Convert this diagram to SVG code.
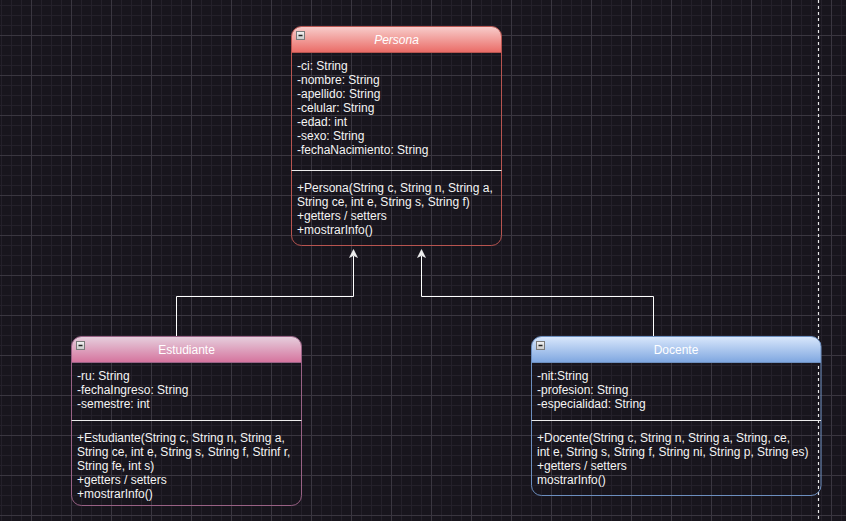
<svg xmlns="http://www.w3.org/2000/svg" width="846" height="521" viewBox="0 0 846 521">
<defs>
<pattern id="grid" x="1" y="5" width="40" height="40" patternUnits="userSpaceOnUse">
<rect width="40" height="40" fill="#18151d"/>
<rect x="0" y="0" width="1" height="40" fill="#24202a"/>
<rect x="10" y="0" width="1" height="40" fill="#24202a"/>
<rect x="20" y="0" width="1" height="40" fill="#24202a"/>
<rect x="0" y="0" width="40" height="1" fill="#24202a"/>
<rect x="0" y="10" width="40" height="1" fill="#24202a"/>
<rect x="0" y="20" width="40" height="1" fill="#24202a"/>
<rect x="30" y="0" width="1" height="40" fill="#3a3640"/>
<rect x="0" y="30" width="40" height="1" fill="#3a3640"/>
</pattern>
<linearGradient id="gRed" x1="0" y1="0" x2="0" y2="1"><stop offset="0" stop-color="#f8cecc"/><stop offset="1" stop-color="#ea6b66"/></linearGradient>
<linearGradient id="gPink" x1="0" y1="0" x2="0" y2="1"><stop offset="0" stop-color="#e6d0de"/><stop offset="1" stop-color="#d5739d"/></linearGradient>
<linearGradient id="gBlue" x1="0" y1="0" x2="0" y2="1"><stop offset="0" stop-color="#dae8fc"/><stop offset="1" stop-color="#7ea6e0"/></linearGradient>
<linearGradient id="gIcon" x1="0" y1="0" x2="0" y2="1"><stop offset="0" stop-color="#f4f4f4"/><stop offset="1" stop-color="#c8c8c8"/></linearGradient>
</defs>
<style>
text{font-family:"Liberation Sans",Arial,sans-serif;font-size:12px;fill:#f4f4f4}
.title{text-anchor:middle;fill:#ffffff}
.box{fill:none;stroke-width:1}
.div{stroke:#ececec;stroke-width:1}
.icon{fill:url(#gIcon);stroke:#7a7a7a;stroke-width:1}
.minus{stroke:#222;stroke-width:1.5}
.edge{fill:none;stroke:#ffffff;stroke-width:1}
.head{fill:#eeeeee;stroke:#ffffff;stroke-width:0.5}
</style>
<rect width="846" height="521" fill="url(#grid)"/>
<line x1="818.5" y1="0" x2="818.5" y2="521" stroke="#e8e8e8" stroke-width="1.2" stroke-dasharray="3 3"/>

<g id="connectors">
<path class="edge" d="M176.5 336.5 V296.5 H353.5 V256"/>
<path class="head" d="M353.5 249.5 L357.5 257.5 L353.5 255.5 L349.5 257.5 Z"/>
<path class="edge" d="M653.5 336.5 V296.5 H421.5 V256"/>
<path class="head" d="M421.5 249.5 L425.5 257.5 L421.5 255.5 L417.5 257.5 Z"/>
</g>

<g id="persona">
<path d="M291.5 52.5 V36.5 A10 10 0 0 1 301.5 26.5 H491.5 A10 10 0 0 1 501.5 36.5 V52.5 Z" fill="url(#gRed)"/>
<rect class="box" x="291.5" y="26.5" width="210" height="219" rx="10" stroke="#b85450"/>
<line x1="291.5" y1="52.5" x2="501.5" y2="52.5" stroke="#b85450"/>
<rect class="icon" x="296.5" y="31.5" width="8" height="8"/>
<line class="minus" x1="298.5" y1="35.5" x2="302.5" y2="35.5"/>
<text class="title" x="396.5" y="44" font-style="italic">Persona</text>
<text x="297" y="69.5">-ci: String</text>
<text x="297" y="83.5">-nombre: String</text>
<text x="297" y="97.5">-apellido: String</text>
<text x="297" y="111.5">-celular: String</text>
<text x="297" y="125.5">-edad: int</text>
<text x="297" y="139.5">-sexo: String</text>
<text x="297" y="153.5">-fechaNacimiento: String</text>
<line class="div" x1="291.5" y1="170.5" x2="501.5" y2="170.5"/>
<text x="297" y="192">+Persona(String c, String n, String a,</text>
<text x="297" y="206">String ce, int e, String s, String f)</text>
<text x="297" y="220">+getters / setters</text>
<text x="297" y="234">+mostrarInfo()</text>
</g>

<g id="estudiante">
<path d="M71.5 362.5 V346.5 A10 10 0 0 1 81.5 336.5 H291.5 A10 10 0 0 1 301.5 346.5 V362.5 Z" fill="url(#gPink)"/>
<rect class="box" x="71.5" y="336.5" width="230" height="169" rx="10" stroke="#996185"/>
<line x1="71.5" y1="362.5" x2="301.5" y2="362.5" stroke="#996185"/>
<rect class="icon" x="76.5" y="341.5" width="8" height="8"/>
<line class="minus" x1="78.5" y1="345.5" x2="82.5" y2="345.5"/>
<text class="title" x="186.5" y="354">Estudiante</text>
<text x="77" y="379.5">-ru: String</text>
<text x="77" y="393.5">-fechaIngreso: String</text>
<text x="77" y="407.5">-semestre: int</text>
<line class="div" x1="71.5" y1="420.5" x2="301.5" y2="420.5"/>
<text x="77" y="441.5">+Estudiante(String c, String n, String a,</text>
<text x="77" y="455.5">String ce, int e, String s, String f, Strinf r,</text>
<text x="77" y="469.5">String fe, int s)</text>
<text x="77" y="483.5">+getters / setters</text>
<text x="77" y="497.5">+mostrarInfo()</text>
</g>

<g id="docente">
<path d="M531.5 362.5 V346.5 A10 10 0 0 1 541.5 336.5 H811 A10 10 0 0 1 821 346.5 V362.5 Z" fill="url(#gBlue)"/>
<rect class="box" x="531.5" y="336.5" width="289.5" height="159" rx="10" stroke="#6c8ebf"/>
<line x1="531.5" y1="362.5" x2="821" y2="362.5" stroke="#6c8ebf"/>
<rect class="icon" x="536.5" y="341.5" width="8" height="8"/>
<line class="minus" x1="538.5" y1="345.5" x2="542.5" y2="345.5"/>
<text class="title" x="676" y="354">Docente</text>
<text x="537" y="379.5">-nit:String</text>
<text x="537" y="393.5">-profesion: String</text>
<text x="537" y="407.5">-especialidad: String</text>
<line class="div" x1="531.5" y1="420.5" x2="821" y2="420.5"/>
<text x="537" y="441.5">+Docente(String c, String n, String a, String, ce,</text>
<text x="537" y="455.5">int e, String s, String f, String ni, String p, String es)</text>
<text x="537" y="469.5">+getters / setters</text>
<text x="537" y="483.5">mostrarInfo()</text>
</g>
</svg>
